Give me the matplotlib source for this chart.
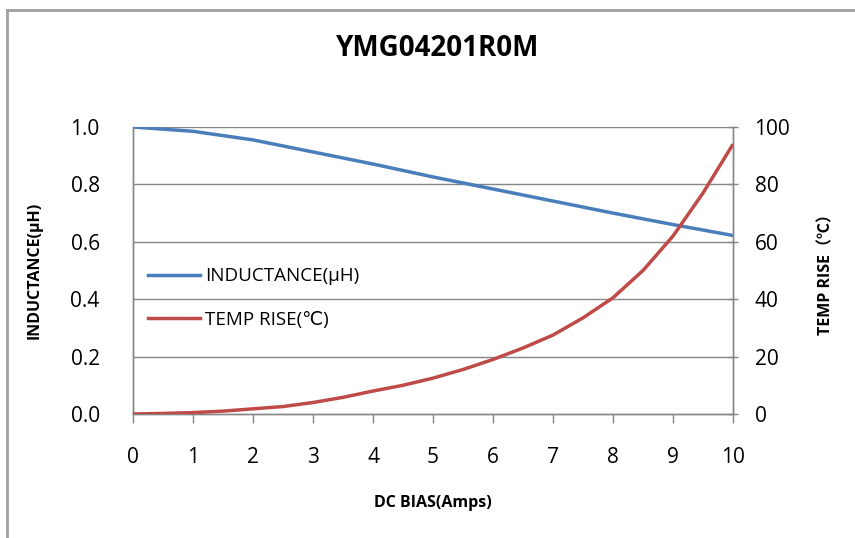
import matplotlib
matplotlib.use("Agg")
import matplotlib.pyplot as plt
from matplotlib.lines import Line2D

plt.rcParams['font.family'] = ['Open Sans', 'DejaVu Sans', 'Noto Sans CJK SC']

# data
dc_bias = [0, 1, 2, 3, 4, 5, 6, 7, 8, 9, 10]
inductance = [1.0, 0.985, 0.955, 0.913, 0.871, 0.826, 0.784, 0.742, 0.700, 0.660, 0.622]
temp_bias = [0, 0.5, 1, 1.5, 2, 2.5, 3, 3.5, 4, 4.5, 5, 5.5, 6, 6.5, 7, 7.5, 8, 8.5, 9, 9.5, 10]
temp_rise = [0, 0.2, 0.5, 1.0, 1.8, 2.6, 4.0, 5.8, 8.0, 10.0, 12.5, 15.5, 19.0, 23.0, 27.5, 33.5, 40.5, 50.0, 62.0, 77.0, 94.0]
xticks = list(range(0, 11))
left_ticks = [0.0, 0.2, 0.4, 0.6, 0.8, 1.0]
right_ticks = [0, 20, 40, 60, 80, 100]

fig = plt.figure(figsize=(8.55, 5.38), dpi=100)
ax = fig.add_axes([133/855, 1-414/538, 600/855, 287/538])
ax2 = ax.twinx()

grid_c = '#868686'
blue = '#4A7EBB'
red = '#BE4B48'

for y in left_ticks[1:]:
    ax.axhline(y, color=grid_c, lw=1, zorder=0)

ax.plot(dc_bias, inductance, color=blue, lw=2.5, solid_capstyle='butt', solid_joinstyle='round', zorder=3)
ax2.plot(temp_bias, temp_rise, color=red, lw=2.5, solid_capstyle='butt', solid_joinstyle='round', zorder=3)

ax.set_xlim(0, 10)
ax.set_ylim(0, 1.0)
ax2.set_ylim(0, 100)
ax.set_xticks(xticks)
ax.set_yticks(left_ticks)
ax.set_yticklabels([f"{v:.1f}" for v in left_ticks])
ax2.set_yticks(right_ticks)

for a in (ax, ax2):
    for s in a.spines.values():
        s.set_color(grid_c)
        s.set_linewidth(1)
    a.spines['top'].set_visible(False)

ax.tick_params(axis='y', length=0, pad=24, labelsize=15, colors='black')
ax.tick_params(axis='x', direction='out', length=6.5, width=1, color=grid_c, pad=17, labelsize=15)
ax2.tick_params(axis='y', direction='inout', length=7, width=1, color=grid_c, pad=12, labelsize=15)

ax.set_xlabel('DC BIAS(Amps)', fontsize=11.5, fontweight='bold', labelpad=20)
ax.set_ylabel('INDUCTANCE(μH)', fontsize=11.5, fontweight='bold', labelpad=20)
ax2.set_ylabel('TEMP RISE（℃）', fontsize=11.5, fontweight='bold', labelpad=20,
               family=['Open Sans', 'Noto Sans CJK SC', 'DejaVu Sans'])

fig.text(438/855, 1-49/538, 'YMG04201R0M', ha='center', va='center', fontsize=20, fontweight='bold')

handles = [Line2D([], [], color=blue, lw=2.5), Line2D([], [], color=red, lw=2.5)]
leg = ax.legend(handles, ['INDUCTANCE(μH)', 'TEMP RISE(℃)'], loc='center left',
                bbox_to_anchor=(15/600, 0.404), frameon=False, borderpad=0, borderaxespad=0,
                handlelength=2.77, handletextpad=0.27, labelspacing=1.36,
                prop={'family': ['Open Sans', 'DejaVu Sans'], 'size': 13.5})

# figure border (left and top visible)
fig.add_artist(Line2D([7/855, 7/855], [0, 1-10/538], transform=fig.transFigure, color='#A0A0A0', lw=2))
fig.add_artist(Line2D([7/855, 1], [1-10/538, 1-10/538], transform=fig.transFigure, color='#A0A0A0', lw=2))

fig.savefig('out.png', dpi=100)
